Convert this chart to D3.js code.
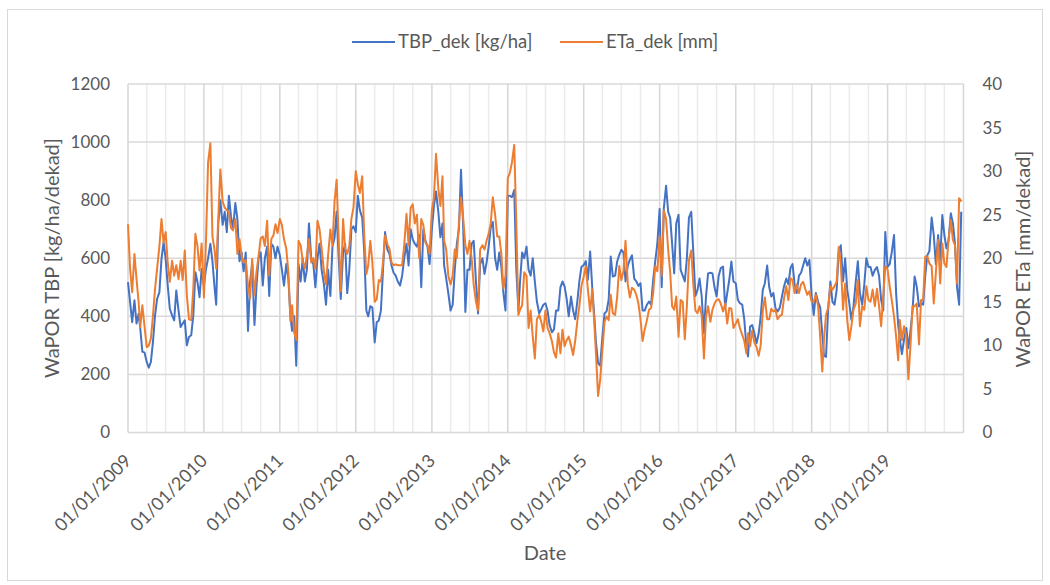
<!DOCTYPE html>
<html><head><meta charset="utf-8">
<script src="https://cdn.jsdelivr.net/npm/d3@7"></script>
<style>
body{margin:0;background:#fff;}
text{font-family:Lato,"Open Sans",sans-serif;fill:#595959;}
</style>
</head><body>
<svg id="chart" width="1050" height="585"></svg>
<script>
// TBP (kg/ha per dekad), 36 dekads per year
const tbp2009=[518,449,380,455,375,409,358,278,276,243,223,243,312,403,460,483,598,655,598,506,426,403,386,489,420,363,375,386,300,329,335,403,552,518,466,563];
const tbp2010=[506,563,600,650,590,500,440,720,800,715,760,690,815,745,700,790,735,590,620,555,620,350,520,580,370,506,600,620,506,600,640,470,650,640,600,640];
const tbp2011=[610,560,506,580,530,400,350,400,230,580,520,600,520,560,720,600,580,500,600,650,560,510,440,560,470,640,670,760,600,460,620,650,480,560,700,710];
const tbp2012=[690,815,765,740,620,420,400,435,430,310,380,386,420,560,690,630,615,575,550,540,520,506,540,600,650,575,700,665,650,640,680,500,700,660,640,580];
const tbp2013=[700,780,830,760,672,720,575,530,480,420,440,560,650,700,905,700,415,560,560,650,660,520,410,580,600,546,585,640,705,725,600,560,620,570,480,420];
const tbp2014=[815,815,810,835,560,420,520,620,600,640,560,540,600,520,450,410,425,440,445,420,370,345,355,420,420,500,520,503,460,400,468,420,390,450,520,570];
const tbp2015=[577,590,526,623,500,400,310,240,230,330,410,417,457,606,537,540,589,612,629,620,520,575,595,610,530,520,505,514,420,420,440,451,440,526,590,650];
const tbp2016=[770,500,770,850,760,738,650,548,720,750,560,540,520,600,740,760,620,470,490,530,470,342,468,548,550,548,500,468,540,566,571,430,480,526,589,520];
const tbp2017=[514,457,445,440,390,296,262,365,370,340,307,340,400,491,514,575,500,468,480,428,417,430,468,503,530,510,566,580,510,480,540,550,575,600,575,594];
const tbp2018=[470,405,480,450,430,340,265,260,420,520,450,440,490,620,645,520,600,491,445,388,434,520,590,480,440,510,600,570,570,540,560,570,540,457,420,690];
const tbp2019=[570,580,620,680,480,370,320,270,320,360,290,350,420,537,503,434,445,440,540,610,625,740,680,580,680,594,749,680,634,660,755,720,650,500,440,760];

// ETa (mm per dekad)
const eta2009=[23.9,18.8,16.1,20.5,17.6,15.0,12.1,14.6,12.3,9.8,10.0,10.8,13.4,16.5,18.8,21.4,24.5,21.8,23.0,19.5,17.3,19.7,18.0,19.2,17.6,19.7,17.5,20.9,15.7,13.0,12.9,16.5,22.8,21.4,18.6,21.7];
const eta2010=[15.5,22.0,31.0,33.2,22.5,21.0,18.8,24.5,30.2,26.5,25.8,25.5,25.3,23.5,23.2,24.5,20.5,22.2,20.3,19.5,19.8,16.9,15.4,19.9,15.8,18.5,20.3,22.3,22.5,21.4,24.3,18.0,22.2,22.6,23.9,22.9];
const eta2011=[24.5,23.8,22.2,21.1,18.4,12.8,14.6,11.5,10.6,22.0,21.5,19.7,18.8,20.3,22.2,19.5,20.0,18.8,24.3,23.3,21.1,18.5,17.0,20.3,23.3,21.4,26.5,29.0,22.2,16.2,24.5,21.1,20.5,21.4,24.5,25.8];
const eta2012=[30.0,28.5,27.5,29.4,22.5,18.2,19.2,22.0,19.5,15.0,15.3,17.5,17.3,19.5,22.6,21.6,21.1,19.5,19.2,19.3,19.2,19.2,19.2,21.5,25.1,21.5,25.8,26.2,24.0,25.0,20.0,24.5,23.8,21.8,21.5,20.5];
const eta2013=[25.5,27.0,32.0,28.0,26.0,29.4,22.0,21.0,18.0,17.0,18.0,21.0,20.0,24.0,27.0,24.5,21.5,20.5,22.0,20.0,17.0,15.0,14.0,21.0,21.5,21.0,22.0,22.8,24.0,27.0,25.0,22.5,22.5,20.5,16.5,18.0];
const eta2014=[29.2,29.8,31.0,33.0,24.0,13.5,14.1,14.6,18.4,18.0,12.0,14.0,11.0,8.5,13.0,13.5,12.7,11.6,14.0,12.0,11.4,10.5,9.2,8.6,11.4,9.1,11.8,9.9,10.6,11.0,10.0,8.9,10.5,12.7,14.5,16.8];
const eta2015=[17.9,19.1,16.4,13.9,16.4,12.5,9.0,4.2,6.0,9.5,12.7,13.3,12.9,15.8,13.7,13.5,15.6,19.1,17.5,18.5,22.0,17.0,15.5,16.6,16.4,15.8,14.8,13.0,10.5,11.8,12.9,14.1,14.3,16.0,19.1,18.5];
const eta2016=[22.5,18.0,25.5,24.5,21.0,18.3,14.5,14.1,15.6,11.0,15.2,15.0,10.7,14.5,19.8,20.9,17.0,14.0,13.7,14.5,13.5,8.5,13.3,14.5,12.7,14.1,14.8,15.2,15.3,14.8,13.9,14.8,12.5,14.3,14.2,12.0];
const eta2017=[12.5,13.0,12.0,11.2,10.5,9.1,11.4,9.9,11.7,10.3,9.8,8.8,10.0,14.0,15.5,13.0,13.0,14.2,13.9,14.1,13.0,13.4,13.5,15.4,16.8,15.2,17.7,17.5,16.0,17.0,16.0,17.0,17.3,16.5,15.8,16.2];
const eta2018=[15.0,15.0,15.8,14.5,11.0,7.0,10.6,13.5,14.3,16.8,16.4,16.8,17.3,21.3,19.4,14.1,17.1,12.9,10.6,12.2,14.1,14.8,17.5,12.2,14.5,14.1,16.8,15.2,15.0,16.4,14.5,16.5,14.5,12.2,15.6,19.1];
const eta2019=[18.7,16.8,15.2,13.3,11.0,8.3,12.9,10.6,12.2,11.0,6.1,9.9,14.5,14.5,14.8,10.1,15.2,15.2,20.2,20.2,19.4,19.1,14.8,18.3,22.1,17.1,21.7,19.4,19.0,22.1,24.4,22.1,21.5,17.1,26.9,26.5];

const years=[2009,2010,2011,2012,2013,2014,2015,2016,2017,2018,2019];
const dekadDays=[1,11,21];
const tbpTicks=[0,200,400,600,800,1000,1200];
const etaTicks=[0,5,10,15,20,25,30,35,40];
const xTickLabels=["01/01/2009","01/01/2010","01/01/2011","01/01/2012","01/01/2013","01/01/2014","01/01/2015","01/01/2016","01/01/2017","01/01/2018","01/01/2019"];
const seriesNames=["TBP_dek [kg/ha]","ETa_dek [mm]"];
const titleLeft="WaPOR TBP [kg/ha/dekad]";
const titleRight="WaPOR ETa [mm/dekad]";
const titleBottom="Date";
const colors=["#4472C4","#ED7D31"];

const tbp=[].concat(tbp2009,tbp2010,tbp2011,tbp2012,tbp2013,tbp2014,tbp2015,tbp2016,tbp2017,tbp2018,tbp2019);
const eta=[].concat(eta2009,eta2010,eta2011,eta2012,eta2013,eta2014,eta2015,eta2016,eta2017,eta2018,eta2019);
const dates=[];
years.forEach(y=>{for(let m=0;m<12;m++){dekadDays.forEach(d=>dates.push(new Date(y,m,d)));}});
const dataT=dates.map((d,i)=>({d,v:tbp[i]}));
const dataE=dates.map((d,i)=>({d,v:eta[i]}));

const svg=d3.select("#chart");
const L=128,R=963.5,T=84,B=432.5;

svg.append("rect").attr("x",7.5).attr("y",9.5).attr("width",1035).attr("height",571)
  .attr("fill","#fff").attr("stroke","#d9d9d9").attr("stroke-width",1);

const x=d3.scaleTime().domain([new Date(2009,0,1),new Date(2020,0,1)]).range([L,R]);
const yL=d3.scaleLinear().domain([0,1200]).range([B,T]);
const yR=d3.scaleLinear().domain([0,40]).range([B,T]);

const grid=svg.append("g");
grid.selectAll(".mv").data(x.ticks(d3.timeMonth.every(3)).filter(d=>d.getMonth()!==0)).enter()
  .append("line").attr("x1",d=>x(d)).attr("x2",d=>x(d)).attr("y1",T).attr("y2",B)
  .attr("stroke","#ebebeb").attr("stroke-width",1.5);
grid.selectAll(".yv").data(x.ticks(d3.timeYear.every(1))).enter()
  .append("line").attr("x1",d=>x(d)).attr("x2",d=>x(d)).attr("y1",T).attr("y2",B)
  .attr("stroke","#d6d6d6").attr("stroke-width",1.5);
grid.selectAll(".hg").data(tbpTicks).enter()
  .append("line").attr("x1",L).attr("x2",R).attr("y1",d=>yL(d)).attr("y2",d=>yL(d))
  .attr("stroke","#d9d9d9").attr("stroke-width",1.5);

const lineT=d3.line().x(d=>x(d.d)).y(d=>yL(d.v));
const lineE=d3.line().x(d=>x(d.d)).y(d=>yR(d.v));
svg.append("path").datum(dataT).attr("d",lineT).attr("fill","none").attr("stroke",colors[0]).attr("stroke-width",2).attr("stroke-linejoin","round");
svg.append("path").datum(dataE).attr("d",lineE).attr("fill","none").attr("stroke",colors[1]).attr("stroke-width",2).attr("stroke-linejoin","round");

const axL=d3.axisLeft(yL).tickValues(tbpTicks).tickSize(0).tickPadding(18).tickFormat(d3.format("d"));
const gL=svg.append("g").attr("transform",`translate(${L},0)`).call(axL);
gL.select(".domain").remove();
gL.selectAll("text").style("font-size","17px").attr("font-family",null).attr("fill","#595959");

const axR=d3.axisRight(yR).tickValues(etaTicks).tickSize(0).tickPadding(19).tickFormat(d3.format("d"));
const gR=svg.append("g").attr("transform",`translate(${R},0)`).call(axR);
gR.select(".domain").remove();
gR.selectAll("text").style("font-size","17px").attr("font-family",null).attr("fill","#595959");

const yearStarts=years.map(y=>new Date(y,0,1));
const axB=d3.axisBottom(x).tickValues(yearStarts).tickSize(0).tickFormat((d,i)=>xTickLabels[i]);
const gB=svg.append("g").attr("transform",`translate(0,${B})`).call(axB);
gB.select(".domain").remove();
gB.selectAll("text").style("font-size","18px").attr("font-family",null).attr("fill","#595959")
  .attr("text-anchor","end").attr("y",null)
  .attr("transform","translate(-0.5,25) rotate(-45)").attr("dy","0.35em");

svg.append("text").attr("transform","translate(59,258) rotate(-90)").attr("text-anchor","middle")
  .style("font-size","20px").text(titleLeft);
svg.append("text").attr("transform","translate(1030,259) rotate(-90)").attr("text-anchor","middle")
  .style("font-size","20px").text(titleRight);
svg.append("text").attr("x",545).attr("y",559.5).attr("text-anchor","middle")
  .style("font-size","20px").text(titleBottom);

const leg=svg.append("g");
const legX=[352,560];
seriesNames.forEach((n,i)=>{
  leg.append("line").attr("x1",legX[i]).attr("x2",legX[i]+43).attr("y1",42).attr("y2",42)
    .attr("stroke",colors[i]).attr("stroke-width",2);
  leg.append("text").attr("x",legX[i]+46).attr("y",42).attr("dy","0.35em")
    .style("font-size","18.5px").text(n);
});
</script>
</body></html>
